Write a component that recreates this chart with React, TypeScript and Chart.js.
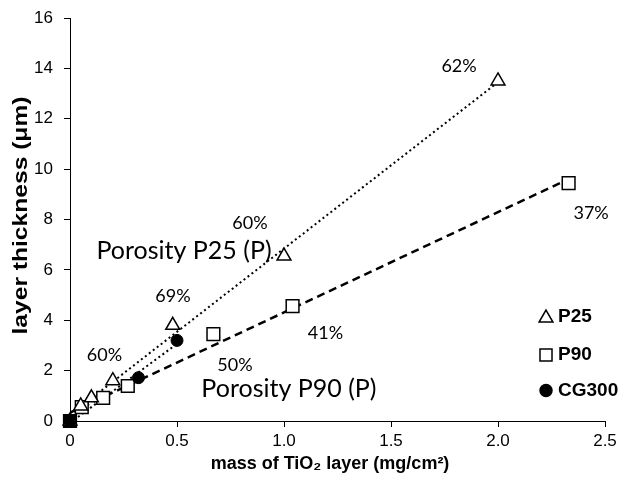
import React, { useEffect, useRef } from "react";
import { Chart, registerables } from "chart.js";

Chart.register(...registerables);

// ---- data ----
const p25Mass = [0, 0.05, 0.1, 0.2, 0.48, 1.0, 2.0];
const p25Thickness = [0, 0.6, 0.92, 1.6, 3.8, 6.55, 13.5];

const p90Mass = [0, 0.055, 0.155, 0.27, 0.67, 1.04, 2.33];
const p90Thickness = [0, 0.55, 0.92, 1.39, 3.45, 4.56, 9.44];

const cg300Mass = [0, 0.32, 0.5];
const cg300Thickness = [0, 1.72, 3.2];

const seriesNames = ["P25", "P90", "CG300"];

const xTicks = [0, 0.5, 1, 1.5, 2, 2.5];
const yTicks = [0, 2, 4, 6, 8, 10, 12, 14, 16];

const xTitle = "mass of TiO₂ layer (mg/cm²)";
const yTitle = "layer thickness (μm)";

// annotation texts with their anchor in data units
const noteTexts = ["62%", "37%", "60%", "69%", "41%", "60%", "50%"];
const noteX = [1.818, 2.435, 0.841, 0.481, 1.194, 0.161, 0.771];
const noteY = [14.09, 8.24, 7.86, 4.94, 3.47, 2.62, 2.22];

const bigNoteTexts = ["Porosity P25 (P)", "Porosity P90 (P)"];
const bigNoteX = [0.533, 1.023];
const bigNoteY = [6.75, 1.27];

function pts(xs: number[], ys: number[]) {
  return xs.map((x, i) => ({ x, y: ys[i] }));
}

function fitLine(xs: number[], ys: number[]) {
  const n = xs.length;
  const mx = xs.reduce((a, b) => a + b, 0) / n;
  const my = ys.reduce((a, b) => a + b, 0) / n;
  let sxy = 0;
  let sxx = 0;
  for (let i = 0; i < n; i++) {
    sxy += (xs[i] - mx) * (ys[i] - my);
    sxx += (xs[i] - mx) * (xs[i] - mx);
  }
  const slope = sxy / sxx;
  const b = my - slope * mx;
  const x0 = Math.min(...xs);
  const x1 = Math.max(...xs);
  return [
    { x: x0, y: b + slope * x0 },
    { x: x1, y: b + slope * x1 },
  ];
}

const ARIAL = "'Liberation Sans', Arial, sans-serif";
const CALIBRI = "Lato, 'Open Sans', sans-serif";

function drawMarker(ctx: CanvasRenderingContext2D, style: string, x: number, y: number, r: number, fill: string) {
  ctx.save();
  ctx.beginPath();
  if (style === "triangle") {
    const w = r * Math.sin(Math.PI / 3);
    ctx.moveTo(x, y - r);
    ctx.lineTo(x + w, y + r / 2);
    ctx.lineTo(x - w, y + r / 2);
    ctx.closePath();
  } else if (style === "rect") {
    const s = r * Math.SQRT1_2;
    ctx.rect(x - s, y - s, 2 * s, 2 * s);
  } else {
    ctx.arc(x, y, r, 0, Math.PI * 2);
  }
  ctx.fillStyle = fill;
  ctx.fill();
  ctx.lineWidth = 1.5;
  ctx.strokeStyle = "#000";
  ctx.stroke();
  ctx.restore();
}

const annotationPlugin = {
  id: "annotations",
  afterDatasetsDraw(chart: any) {
    const { ctx, scales } = chart;
    ctx.save();
    ctx.fillStyle = "#000";
    ctx.textAlign = "center";
    ctx.textBaseline = "middle";
    ctx.font = `18px ${CALIBRI}`;
    noteTexts.forEach((t, i) => {
      ctx.fillText(t, scales.x.getPixelForValue(noteX[i]), scales.y.getPixelForValue(noteY[i]));
    });
    ctx.font = `25px ${CALIBRI}`;
    bigNoteTexts.forEach((t, i) => {
      ctx.fillText(t, scales.x.getPixelForValue(bigNoteX[i]), scales.y.getPixelForValue(bigNoteY[i]));
    });
    ctx.restore();
  },
};

const titlePlugin = {
  id: "axisTitles",
  afterDraw(chart: any) {
    const { ctx, chartArea } = chart;
    ctx.save();
    ctx.fillStyle = "#000";
    ctx.textAlign = "center";
    ctx.textBaseline = "middle";
    // x title
    ctx.font = `bold 18px ${ARIAL}`;
    ctx.fillText(xTitle, chartArea.left + 260, chartArea.bottom + 43);
    // y title (rotated, fitted to its length in the reference)
    ctx.font = `bold 20px ${ARIAL}`;
    const w = ctx.measureText(yTitle).width;
    ctx.translate(21, (chartArea.top + chartArea.bottom) / 2 - 4);
    ctx.rotate(-Math.PI / 2);
    ctx.scale(238 / w, 1);
    ctx.fillText(yTitle, 0, 0);
    ctx.restore();
  },
};

const legendPlugin = {
  id: "customLegend",
  afterDraw(chart: any) {
    const { ctx, chartArea } = chart;
    const items = chart.data.datasets.filter((d: any) => !d.isTrend);
    const rowY = [316, 354, 389.5];
    const mx = chartArea.right - 59;
    ctx.save();
    ctx.font = `bold 19px ${ARIAL}`;
    ctx.textAlign = "left";
    ctx.textBaseline = "middle";
    ctx.fillStyle = "#000";
    items.forEach((d: any, i: number) => {
      const y = rowY[i];
      const style = d.pointStyle;
      const r = style === "triangle" ? 8 : style === "rect" ? 8.5 : 6;
      drawMarker(ctx, style, mx, style === "triangle" ? y + 2 : y + 1, r, d.pointBackgroundColor === "#000" ? "#000" : "#fff");
      ctx.fillText(d.label, mx + 12, y + 1);
    });
    ctx.restore();
  },
};

export default function App() {
  const ref = useRef<HTMLCanvasElement | null>(null);

  useEffect(() => {
    if (!ref.current) return;
    const chart = new Chart(ref.current, {
      type: "scatter",
      data: {
        datasets: [
          {
            label: seriesNames[0],
            data: pts(p25Mass, p25Thickness),
            pointStyle: "triangle",
            pointRadius: 8,
            pointBackgroundColor: "#fff",
            pointBorderColor: "#000",
            pointBorderWidth: 1.5,
            clip: false,
            order: 1,
          } as any,
          {
            label: seriesNames[1],
            data: pts(p90Mass, p90Thickness),
            pointStyle: "rect",
            pointRadius: 9,
            pointBackgroundColor: (c: any) => (c.raw && c.raw.x === 0 ? "#000" : "#fff"),
            pointBorderColor: "#000",
            pointBorderWidth: 1.5,
            clip: false,
            order: 1,
          } as any,
          {
            label: seriesNames[2],
            data: pts(cg300Mass, cg300Thickness),
            pointStyle: "circle",
            pointRadius: 6,
            pointBackgroundColor: "#000",
            pointBorderColor: "#000",
            pointBorderWidth: 1,
            clip: false,
            order: 0,
          } as any,
          {
            label: "P25 trend",
            isTrend: true,
            data: fitLine(p25Mass, p25Thickness),
            showLine: true,
            pointRadius: 0,
            borderColor: "#000",
            borderWidth: 2,
            borderDash: [2, 3],
            order: 2,
          } as any,
          {
            label: "P90 trend",
            isTrend: true,
            data: fitLine(p90Mass, p90Thickness),
            showLine: true,
            pointRadius: 0,
            borderColor: "#000",
            borderWidth: 2.5,
            borderDash: [8, 5],
            order: 2,
          } as any,
          {
            label: "CG300 trend",
            isTrend: true,
            data: fitLine(cg300Mass, cg300Thickness),
            showLine: true,
            pointRadius: 0,
            borderColor: "#000",
            borderWidth: 2,
            borderDash: [2, 3],
            order: 2,
          } as any,
        ],
      },
      options: {
        animation: false,
        responsive: false,
        layout: { padding: { top: 18, right: 25, left: 0, bottom: 0 } },
        plugins: { legend: { display: false }, tooltip: { enabled: false } },
        scales: {
          x: {
            type: "linear",
            min: xTicks[0],
            max: xTicks[xTicks.length - 1],
            afterBuildTicks: (s: any) => {
              s.ticks = xTicks.map((v) => ({ value: v }));
            },
            afterFit: (s: any) => {
              s.height = 57;
              s.paddingLeft = 0;
              s.paddingRight = 0;
            },
            ticks: {
              color: "#000",
              font: { family: ARIAL, size: 17 },
              padding: 4,
              maxRotation: 0,
            },
            grid: { display: true, drawOnChartArea: false, drawTicks: true, tickLength: 6, color: "#000", lineWidth: 1 },
            border: { display: true, color: "#000", width: 1 },
            title: { display: false },
          },
          y: {
            type: "linear",
            min: yTicks[0],
            max: yTicks[yTicks.length - 1],
            afterBuildTicks: (s: any) => {
              s.ticks = yTicks.map((v) => ({ value: v }));
            },
            afterFit: (s: any) => {
              s.width = 70;
              s.paddingTop = 0;
              s.paddingBottom = 0;
            },
            ticks: {
              color: "#000",
              font: { family: ARIAL, size: 17 },
              padding: 11,
            },
            grid: { display: true, drawOnChartArea: false, drawTicks: true, tickLength: 6, color: "#000", lineWidth: 1 },
            border: { display: true, color: "#000", width: 1 },
            title: { display: false },
          },
        },
      } as any,
      plugins: [annotationPlugin, titlePlugin, legendPlugin],
    });
    return () => chart.destroy();
  }, []);

  return (
    <div style={{ position: "fixed", left: 0, top: 0, width: 630, height: 478, background: "#fff" }}>
      <canvas ref={ref} width={630} height={478} style={{ display: "block", width: 630, height: 478 }} />
    </div>
  );
}
